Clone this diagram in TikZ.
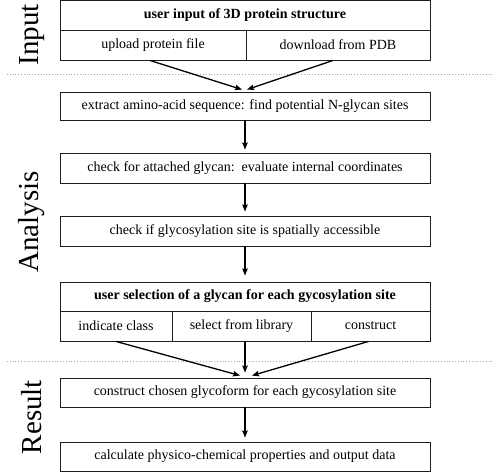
\documentclass[tikz,border=0pt]{standalone}
\usepackage{fontspec}
\setmainfont{Liberation Serif}
\usetikzlibrary{arrows.meta, positioning}
\definecolor{cline}{HTML}{1E1E1E}
\definecolor{cdots}{HTML}{A8A8A8}
\tikzset{
  every picture/.style={line width=0.9pt},
  box/.style={draw=cline, minimum width=#1, minimum height=30pt, inner sep=0pt, font=\fontsize{14}{16}\selectfont},
  box/.default=370pt,
  head/.style={box, font=\fontsize{14}{16}\selectfont\bfseries},
  arrow/.style={-{Stealth[length=7pt, width=5.5pt, inset=1pt]}, draw=black, line width=1.3pt},
  stage/.style={rotate=90, font=\fontsize{29}{31}\selectfont, inner sep=0pt},
  divider/.style={draw=cdots, dotted, line width=0.8pt},
}

\begin{document}
\begin{tikzpicture}[x=1pt, y=-1pt]
  \useasboundingbox (0,0) rectangle (496,472);
  % stages
  \node[stage] (input) at (32,35) {Input};
  \node[stage] (analysis) at (32,222) {Analysis};
  \node[stage] (result) at (32,417) {Result};
  \draw[divider] (7,74) -- (493,74);
  \draw[divider] (7,361) -- (493,361);
  % input
  \node[head] (user) at (245,15) {user input of 3D protein structure};
  \node[box=186pt] (upload) at (153,45) {upload protein file};
  \node[box=184pt] (pdb) at (338,45) {download from PDB};
  % analysis
  \node[box, minimum height=28pt] (extract) at (245,106) {extract amino-acid sequence: find potential N-glycan sites};
  \node[box] (attached) at (245,168) {check for attached glycan:\ \ evaluate internal coordinates};
  \node[box] (access) at (245,231) {check if glycosylation site is spatially accessible};
  \node[head, minimum height=29pt] (select) at (245,296.5) {user selection of a glycan for each gycosylation site};
  \node[box=112pt] (class) at (116,326) {indicate class};
  \node[box=139pt] (library) at (241.5,326) {select from library};
  \node[box=119pt] (construct) at (370.5,326) {construct};
  % result
  \node[box, minimum height=29pt] (glyco) at (245,392.5) {construct chosen glycoform for each gycosylation site};
  \node[box, minimum height=29pt] (calc) at (245,456.5) {calculate physico-chemical properties and output data};
  % arrows
  \draw[arrow] ([xshift=-3pt]upload.south) -- ([xshift=-3pt, yshift=2pt]extract.north);
  \draw[arrow] ([xshift=-5pt]pdb.south) -- ([xshift=2pt, yshift=2pt]extract.north);
  \draw[arrow, shorten >=3pt] (extract) -- (attached);
  \draw[arrow, shorten >=4pt] (attached) -- (access);
  \draw[arrow, shorten >=6pt] (access) -- (select);
  \draw[arrow] (class.south) -- ([xshift=-5pt, yshift=2pt]glyco.north);
  \draw[arrow] (library.south -| glyco.north) -- ([yshift=5pt]glyco.north);
  \draw[arrow] ([xshift=-2pt]construct.south) -- ([xshift=7pt, yshift=2pt]glyco.north);
  \draw[arrow, shorten >=4pt] (glyco) -- (calc);
\end{tikzpicture}
\end{document}
